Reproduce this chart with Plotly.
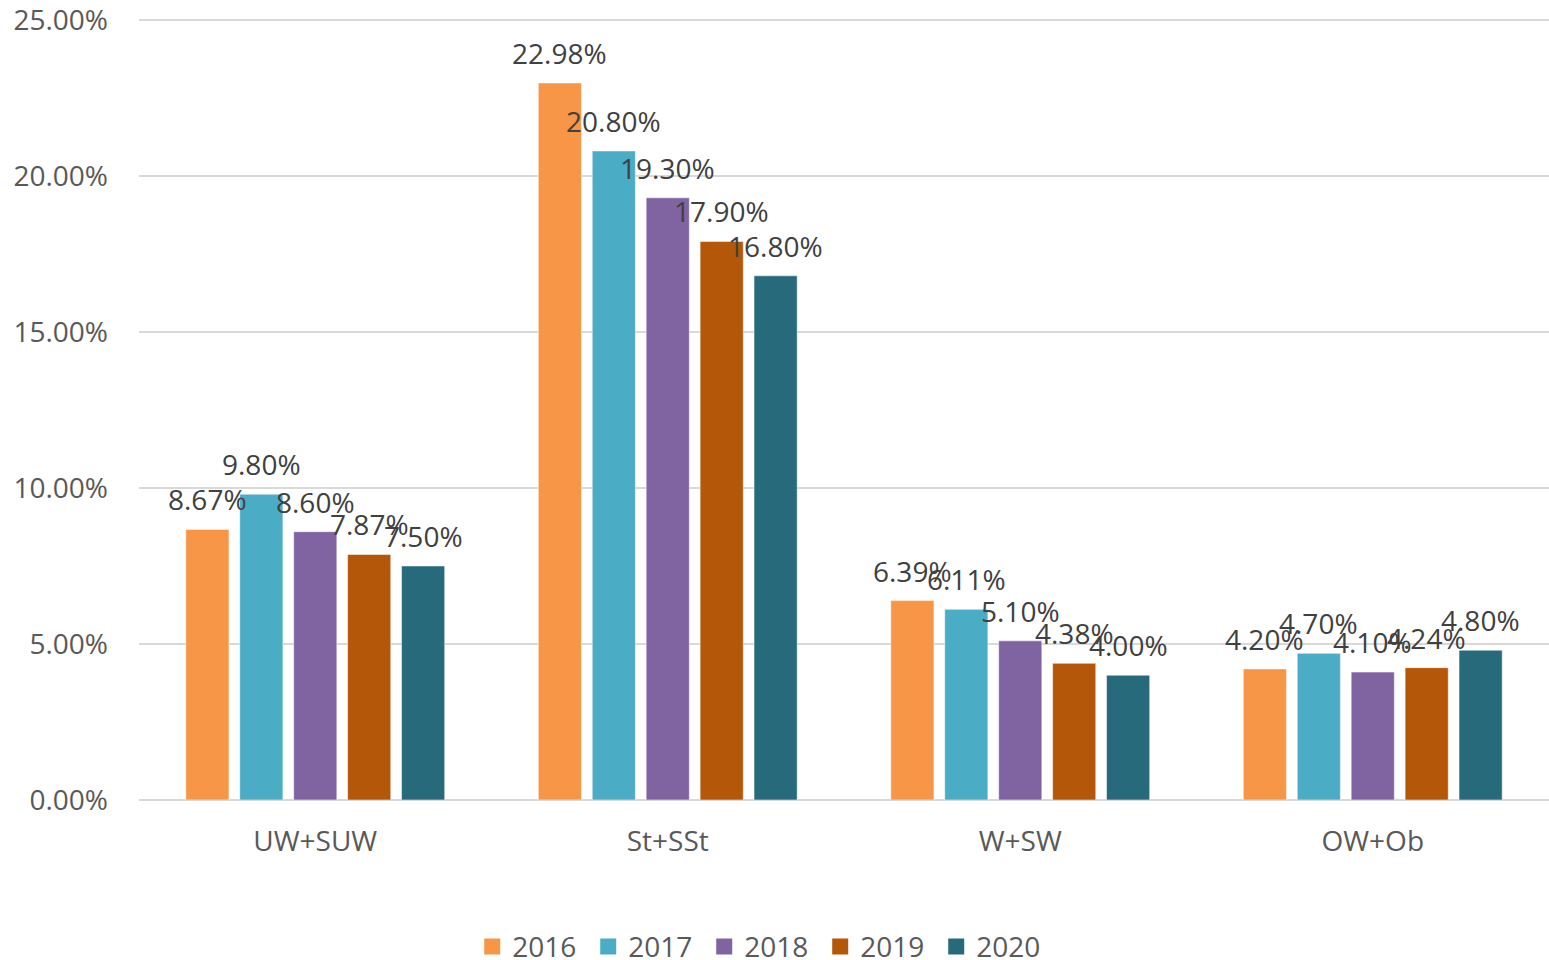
import plotly.graph_objects as go

categories = ["UW+SUW", "St+SSt", "W+SW", "OW+Ob"]
years = ["2016", "2017", "2018", "2019", "2020"]
values_2016 = [8.67, 22.98, 6.39, 4.20]
values_2017 = [9.80, 20.80, 6.11, 4.70]
values_2018 = [8.60, 19.30, 5.10, 4.10]
values_2019 = [7.87, 17.90, 4.38, 4.24]
values_2020 = [7.50, 16.80, 4.00, 4.80]
series = [values_2016, values_2017, values_2018, values_2019, values_2020]
colors = ["#F79646", "#4BACC6", "#8064A2", "#B55708", "#276A7C"]
y_ticks = [0, 5, 10, 15, 20, 25]

FONT = "Open Sans"
FS = 28
fig = go.Figure()
for yr, vals, col in zip(years, series, colors):
    fig.add_trace(go.Bar(
        name=yr, x=categories, y=[v / 100 for v in vals],
        marker=dict(color=col, line=dict(color="rgba(255,255,255,0.5)", width=1)),
        hoverinfo="skip", showlegend=False,
    ))
# legend entries with larger square keys
for yr, col in zip(years, colors):
    fig.add_trace(go.Scatter(
        name=yr, x=[None], y=[None], mode="markers",
        marker=dict(symbol="square", size=17, color=col),
        showlegend=True, hoverinfo="skip",
    ))

# data labels
step = 54
for i, vals in enumerate(series):
    for cat, v in zip(categories, vals):
        fig.add_annotation(
            x=cat, y=v / 100, text=f"{v:.2f}%", showarrow=False,
            xshift=(i - 2) * step, yshift=30, yanchor="middle",
            font=dict(family=FONT, size=FS, color="#404040"),
        )

# top gridline (plotly skips the grid at the range edge)
fig.add_hline(y=y_ticks[-1] / 100, line=dict(color="#D9D9D9", width=2), layer="below")

fig.update_layout(
    width=1549, height=960,
    margin=dict(l=139, r=0, t=19, b=160, autoexpand=False),
    paper_bgcolor="white", plot_bgcolor="white",
    barmode="group", bargap=0.235, bargroupgap=0.2,
    font=dict(family=FONT, size=FS, color="#595959"),
    showlegend=True,
    legend=dict(orientation="h", x=0.442, xanchor="center", y=-0.188, yanchor="middle",
                font=dict(family=FONT, size=FS, color="#595959"), traceorder="normal",
                itemwidth=30, tracegroupgap=0, entrywidth=71, entrywidthmode="pixels"),
)
fig.update_yaxes(
    range=[0, 0.2503], tickvals=[t / 100 for t in y_ticks],
    ticktext=[f"{t:.2f}%" for t in y_ticks],
    showgrid=True, gridcolor="#D9D9D9", gridwidth=2,
    zeroline=True, zerolinecolor="#D9D9D9", zerolinewidth=2,
    ticks="", ticklabelstandoff=30, showline=False, automargin=False,
    ticklabeloverflow="allow",
    tickfont=dict(family=FONT, size=FS, color="#595959"),
)
fig.update_xaxes(
    showgrid=False, showline=False, ticks="", automargin=False,
    tickfont=dict(family=FONT, size=FS, color="#595959"),
    ticklabelstandoff=22,
)
fig.write_html(
    "out.html",
    config={"displayModeBar": False},
    post_script="document.body.style.margin='0';document.body.style.overflow='hidden';",
)
